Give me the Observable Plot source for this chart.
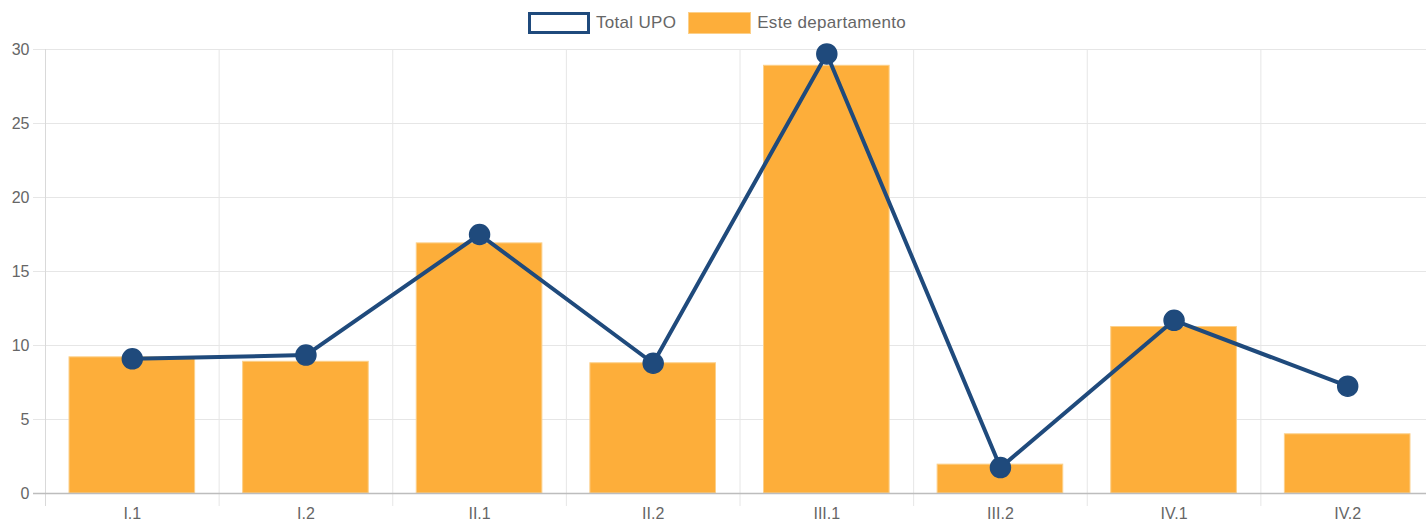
<!DOCTYPE html>
<html>
<head>
<meta charset="utf-8">
<script src="https://cdn.jsdelivr.net/npm/d3@7"></script>
<script src="https://cdn.jsdelivr.net/npm/@observablehq/plot@0.6"></script>
<style>
  html, body { margin: 0; padding: 0; background: #fff; overflow: hidden; }
  body { width: 1426px; height: 523px; font-family: "Liberation Sans", Arial, sans-serif; }
  #legend { height: 40px; padding-top: 6px; box-sizing: border-box; display: flex; justify-content: center; align-items: center; font-size: 17px; letter-spacing: 0.3px; color: #666; padding-left: 8px; }
  .item { display: flex; align-items: center; }
  .item + .item { margin-left: 12px; }
  .sw { margin-right: 6px; box-sizing: border-box; width: 62px; height: 22px; }
  .sw.line { border: 3px solid #1f4a7c; background: #fff; }
  .sw.bar { border: 1px solid #fcd08a; background: #fdae3a; width: 63px; }
</style>
</head>
<body>
<div id="legend">
  <div class="item"><div class="sw line"></div><span>Total UPO</span></div>
  <div class="item"><div class="sw bar"></div><span>Este departamento</span></div>
</div>
<div id="chart"></div>
<script>
const categories = ["I.1", "I.2", "II.1", "II.2", "III.1", "III.2", "IV.1", "IV.2"];
const departamento = [9.2, 8.9, 16.9, 8.8, 28.9, 1.95, 11.25, 4.0];
const totalUPO = [9.1, 9.35, 17.5, 8.8, 29.7, 1.75, 11.7, 7.25];
const yTicks = [0, 5, 10, 15, 20, 25, 30];

const barData = categories.map((c, i) => ({cat: c, v: departamento[i]}));
const lineData = categories.map((c, i) => ({cat: c, v: totalUPO[i]}));

const W = 1426, H = 483, ML = 45, MR = -8, MT = 9, MB = 30;
const bw = (W - ML - MR) / categories.length;

const chart = Plot.plot({
  width: W,
  height: H,
  marginLeft: ML,
  marginRight: MR,
  marginTop: MT,
  marginBottom: MB,
  style: {fontSize: "16px", fontFamily: "Liberation Sans, Arial, sans-serif", color: "#666", background: "#fff"},
  x: {type: "band", domain: categories, padding: 0, round: false, label: null},
  y: {domain: [0, 30], label: null},
  marks: [
    Plot.ruleY(yTicks.filter(t => t > 0), {stroke: "#e6e6e6", strokeWidth: 1, strokeOpacity: 1, insetLeft: -12}),
    Plot.ruleX(categories, {x: d => d, dx: -bw / 2, y1: 30, y2: 0, stroke: "#e6e6e6", strokeOpacity: 1, insetBottom: -13}),
    Plot.ruleX([categories[0]], {x: d => d, dx: -bw / 2, y1: 30, y2: 0, stroke: "#d9d9d9", strokeOpacity: 1, insetBottom: -13}),
    Plot.barY(barData, {x: "cat", y: "v", fill: "#fdae3a", stroke: "#fcd08a", strokeWidth: 1, insetLeft: 24, insetRight: 24}),
    Plot.ruleY([0], {stroke: "#bdbdbd", strokeWidth: 1.5, insetLeft: -12}),
    Plot.line(lineData, {x: "cat", y: "v", stroke: "#1f4a7c", strokeWidth: 4}),
    Plot.dot(lineData, {x: "cat", y: "v", r: 10, fill: "#1f4a7c", stroke: "#1f4a7c"}),
    Plot.axisY(yTicks, {tickSize: 0, tickPadding: 16, fill: "#666"}),
    Plot.axisX(categories, {tickSize: 0, tickPadding: 14, fill: "#666"})
  ]
});
document.getElementById("chart").appendChild(chart);
</script>
</body>
</html>
